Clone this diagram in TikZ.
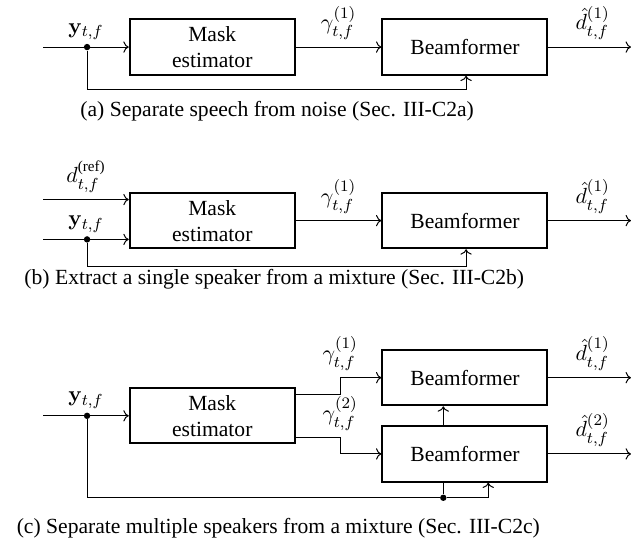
\documentclass[tikz,border=0pt]{standalone}
\usepackage[no-math]{fontspec}
\setmainfont{Liberation Serif}
\usepackage{amsmath}
\usetikzlibrary{arrows.meta, positioning}

\tikzset{
    block/.style={draw, line width=1pt, minimum width=2.9cm, minimum height=0.97cm, align=center, inner sep=1pt},
    conn/.style={->, line width=0.5pt},
    junction/.style={circle, fill, inner sep=0pt, minimum size=3.2pt},
}

\begin{document}
\begin{tikzpicture}[>=To, font=\fontsize{10.8}{13}\selectfont]
    \useasboundingbox (0,0) rectangle (11.088,9.507);
    % (a) speech vs. noise
    \begin{scope}[yshift=8.68cm]
        \coordinate (inya) at (0.76,0);
        \coordinate (outa) at (11.088,0);
        \node[block] (maska) at (3.73,0) {Mask\\estimator};
        \node[block] (bfa) at (8.17,0) {Beamformer};
        \node[junction] (dota) at (1.53,0) {};
        \draw[conn] (inya) -- node[above] {$\mathbf{y}_{t,f}$} (maska);
        \draw[conn] (maska) -- node[above] {$\gamma^{(1)}_{t,f}$} (bfa);
        \draw[conn] (bfa) -- node[above, xshift=0.05cm] {$\hat{d}^{(1)}_{t,f}$} (outa);
        \draw[conn] (dota) |- ([xshift=0.02cm, yshift=-0.25cm]bfa.south) -- ([xshift=0.02cm]bfa.south);
        \node (capa) at (4.87,-1.125) {(a) Separate speech from noise (Sec. III-C2a)};
    \end{scope}
    % (b) single speaker
    \begin{scope}[yshift=5.63cm]
        \coordinate (inref) at (0.76,0.37);
        \coordinate (inyb) at (0.76,-0.33);
        \coordinate (outb) at (11.088,0);
        \node[block] (maskb) at (3.73,0) {Mask\\estimator};
        \node[block] (bfb) at (8.17,0) {Beamformer};
        \node[junction] (dotb) at (1.53,-0.33) {};
        \draw[conn] (inref) -- node[above] {$d^{\text{(ref)}}_{t,f}$} (inref -| maskb.west);
        \draw[conn] (inyb) -- node[above] {$\mathbf{y}_{t,f}$} (inyb -| maskb.west);
        \draw[conn] (maskb) -- node[above] {$\gamma^{(1)}_{t,f}$} (bfb);
        \draw[conn] (bfb) -- node[above, xshift=0.05cm] {$\hat{d}^{(1)}_{t,f}$} (outb);
        \draw[conn] (dotb) |- ([xshift=0.02cm, yshift=-0.3cm]bfb.south) -- ([xshift=0.02cm]bfb.south);
        \node (capb) at (4.82,-1.03) {(b) Extract a single speaker from a mixture (Sec. III-C2b)};
    \end{scope}
    % (c) several speakers
    \begin{scope}[yshift=2.2cm]
        \coordinate (inyc) at (0.76,0);
        \coordinate (out1) at (11.088,0.67);
        \coordinate (out2) at (11.088,-0.67);
        \node[block] (maskc) at (3.73,0) {Mask\\estimator};
        \node[block] (bf1) at (8.17,0.67) {Beamformer};
        \node[block] (bf2) at (8.17,-0.67) {Beamformer};
        \node[junction] (dotc) at (1.53,0) {};
        \node[junction] (dotd) at (7.79,-1.44) {};
        \draw[conn] (inyc) -- node[above] {$\mathbf{y}_{t,f}$} (maskc);
        \draw[conn] ([yshift=0.38cm]maskc.east) -- ++(0.78,0) |- node[pos=0.5, above] {$\gamma^{(1)}_{t,f}$} (bf1);
        \draw[conn] ([yshift=-0.38cm]maskc.east) -- node[pos=1, above] {$\gamma^{(2)}_{t,f}$} ++(0.78,0) |- (bf2);
        \draw[conn] (bf1) -- node[above, xshift=0.05cm] {$\hat{d}^{(1)}_{t,f}$} (out1);
        \draw[conn] (bf2) -- node[above, xshift=0.05cm] {$\hat{d}^{(2)}_{t,f}$} (out2);
        \draw[line width=0.5pt] (dotc) |- (dotd);
        \draw[conn] (dotd) -| ([xshift=0.41cm]bf2.south);
        \draw[line width=0.5pt] (dotd) -- (dotd |- bf2.south);
        \draw[conn] (dotd |- bf2.north) -- (dotd |- bf1.south);
        \node (capc) at (4.89,-1.97) {(c) Separate multiple speakers from a mixture (Sec. III-C2c)};
    \end{scope}
\end{tikzpicture}
\end{document}
